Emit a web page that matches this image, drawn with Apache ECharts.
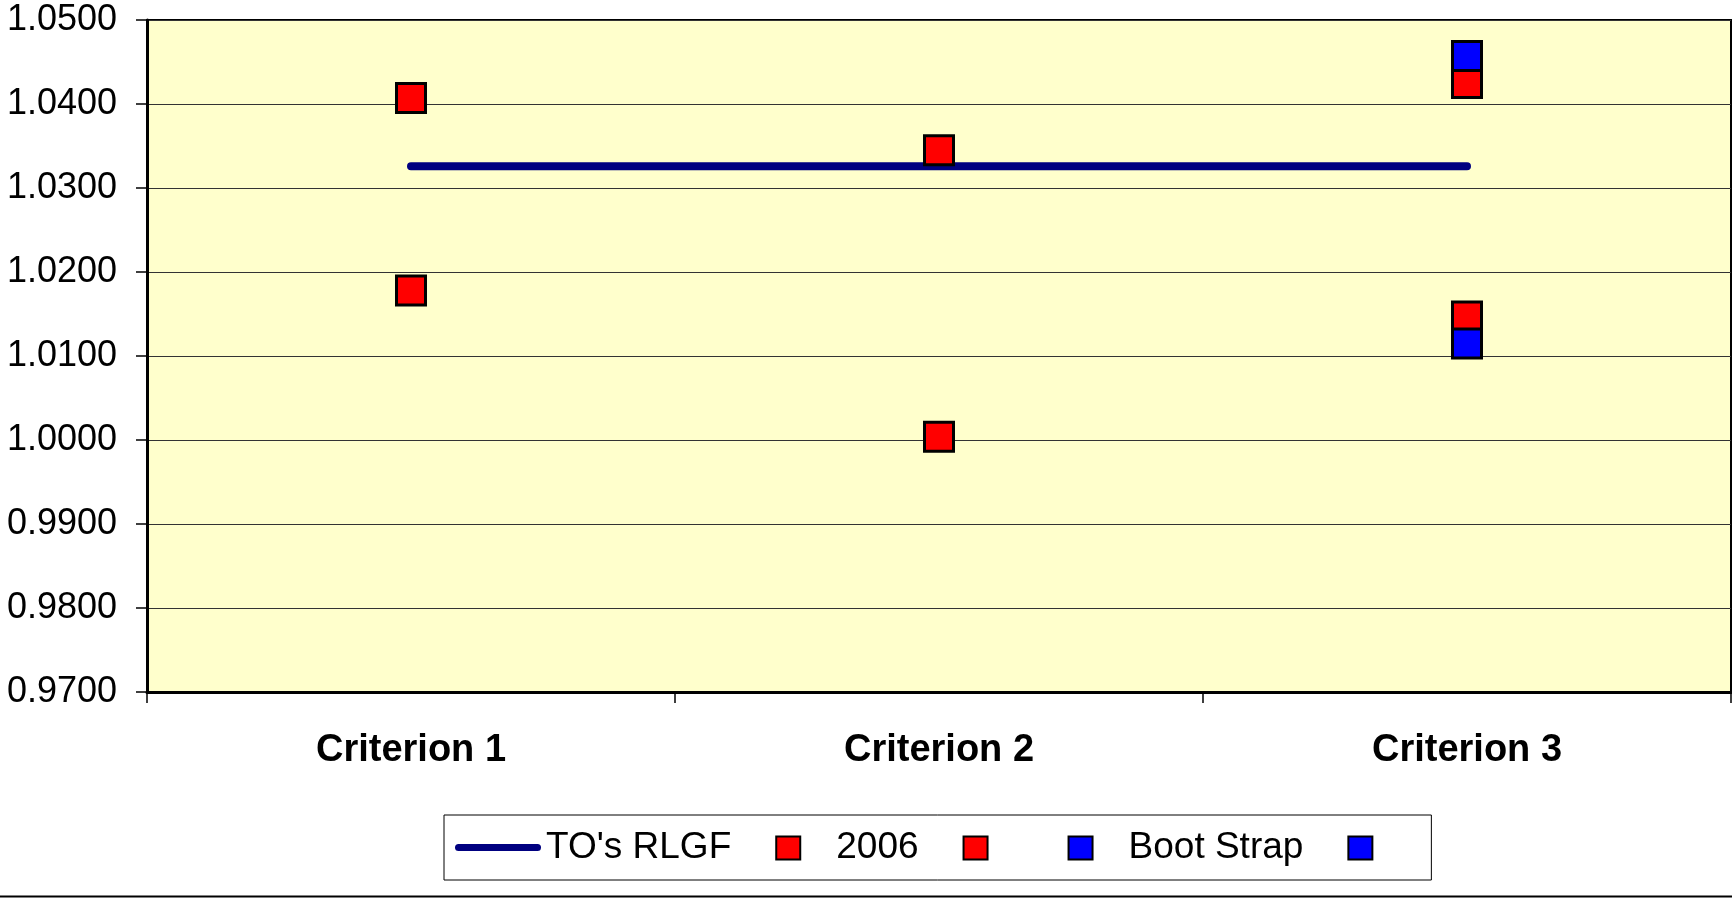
<!DOCTYPE html>
<html>
<head>
<meta charset="utf-8">
<script src="https://cdn.jsdelivr.net/npm/echarts@6/dist/echarts.min.js"></script>
<style>
  html, body { margin: 0; padding: 0; background: #fff; }
  #chartcontainer { width: 1732px; height: 898px; }
</style>
</head>
<body>
<div id="chartcontainer"></div>
<script>
  const categories = ['Criterion 1', 'Criterion 2', 'Criterion 3']
  const rlgf = [1.0326, 1.0326, 1.0326]
  const red2006 = [1.0407, 1.0345, 1.0425]
  const redLow = [1.0178, 1.0004, 1.0147]
  const bootStrap = [null, null, 1.0457]
  const blueLow = [null, null, 1.0115]
  const yTicks = [0.97, 0.98, 0.99, 1.00, 1.01, 1.02, 1.03, 1.04, 1.05]

  const font = 'Liberation Sans, Arial, sans-serif'
  const blank1 = '\u200b'
  const blank2 = '\u200b\u200b'
  // legend icons: the leading moves pin the box to 86x24 so the shape is not stretched
  const squareIcon = 'path://M0,0M86,24M31,1h24v23h-24z'
  const lineIcon = 'path://M0,0M86,24M3.5,8.5h79a3.5,3.5 0 0 1 0,7h-79a3.5,3.5 0 0 1 0,-7z'

  const chart = echarts.init(document.getElementById('chartcontainer'))

  function square (name, data, color) {
    return {
      name: name,
      type: 'scatter',
      data: data,
      symbol: 'rect',
      symbolSize: 29,
      z: 3,
      itemStyle: { color: color, borderColor: '#000', borderWidth: 3, opacity: 1 }
    }
  }

  chart.setOption({
    animation: false,
    textStyle: { fontFamily: font },
    grid: {
      left: 147,
      top: 20,
      right: 1,
      bottom: 206,
      show: true,
      backgroundColor: '#FFFFCC',
      borderColor: '#000',
      borderWidth: 2
    },
    legend: {
      left: 444,
      top: 815,
      padding: [14, 23, 14, 11],
      itemWidth: 86,
      itemHeight: 24,
      itemGap: 13,
      symbolKeepAspect: false,
      borderColor: '#000',
      borderWidth: 1,
      textStyle: { fontSize: 37, color: '#000', fontFamily: font },
      data: [
        { name: "TO's RLGF", icon: lineIcon, itemStyle: { color: '#000080', borderWidth: 0 } },
        { name: '2006', icon: squareIcon, itemStyle: { borderWidth: 2, borderColor: '#000' } },
        { name: blank1, icon: squareIcon, itemStyle: { borderWidth: 2, borderColor: '#000' } },
        { name: 'Boot Strap', icon: squareIcon, itemStyle: { borderWidth: 2, borderColor: '#000' } },
        { name: blank2, icon: squareIcon, itemStyle: { borderWidth: 2, borderColor: '#000' } }
      ]
    },
    xAxis: {
      type: 'category',
      boundaryGap: true,
      data: categories,
      axisLine: { lineStyle: { color: '#000', width: 3 } },
      axisTick: { show: true, length: 11, lineStyle: { color: '#000', width: 1.5 } },
      axisLabel: { color: '#000', fontSize: 38, fontWeight: 'bold', margin: 40, fontFamily: font },
      splitLine: { show: false }
    },
    yAxis: {
      type: 'value',
      min: yTicks[0],
      max: yTicks[yTicks.length - 1],
      interval: 0.01,
      axisLine: { show: true, lineStyle: { color: '#000', width: 3 } },
      axisTick: { show: true, length: 11, lineStyle: { color: '#000', width: 1.5 } },
      axisLabel: {
        color: '#000',
        fontSize: 36,
        margin: 30,
        fontFamily: font,
        formatter: v => v.toFixed(4)
      },
      splitLine: { lineStyle: { color: '#333', width: 1 } }
    },
    series: [
      {
        name: "TO's RLGF",
        type: 'line',
        data: rlgf,
        symbol: 'none',
        z: 2,
        lineStyle: { color: '#000080', width: 8, cap: 'round' },
        itemStyle: { color: '#000080' }
      },
      square('2006', red2006, '#FF0000'),
      square(blank1, redLow, '#FF0000'),
      square('Boot Strap', bootStrap, '#0000FF'),
      square(blank2, blueLow, '#0000FF')
    ],
    graphic: [
      {
        type: 'line',
        shape: { x1: 0, y1: 896.5, x2: 1732, y2: 896.5 },
        style: { stroke: '#000', lineWidth: 2 }
      }
    ]
  })
</script>
</body>
</html>
